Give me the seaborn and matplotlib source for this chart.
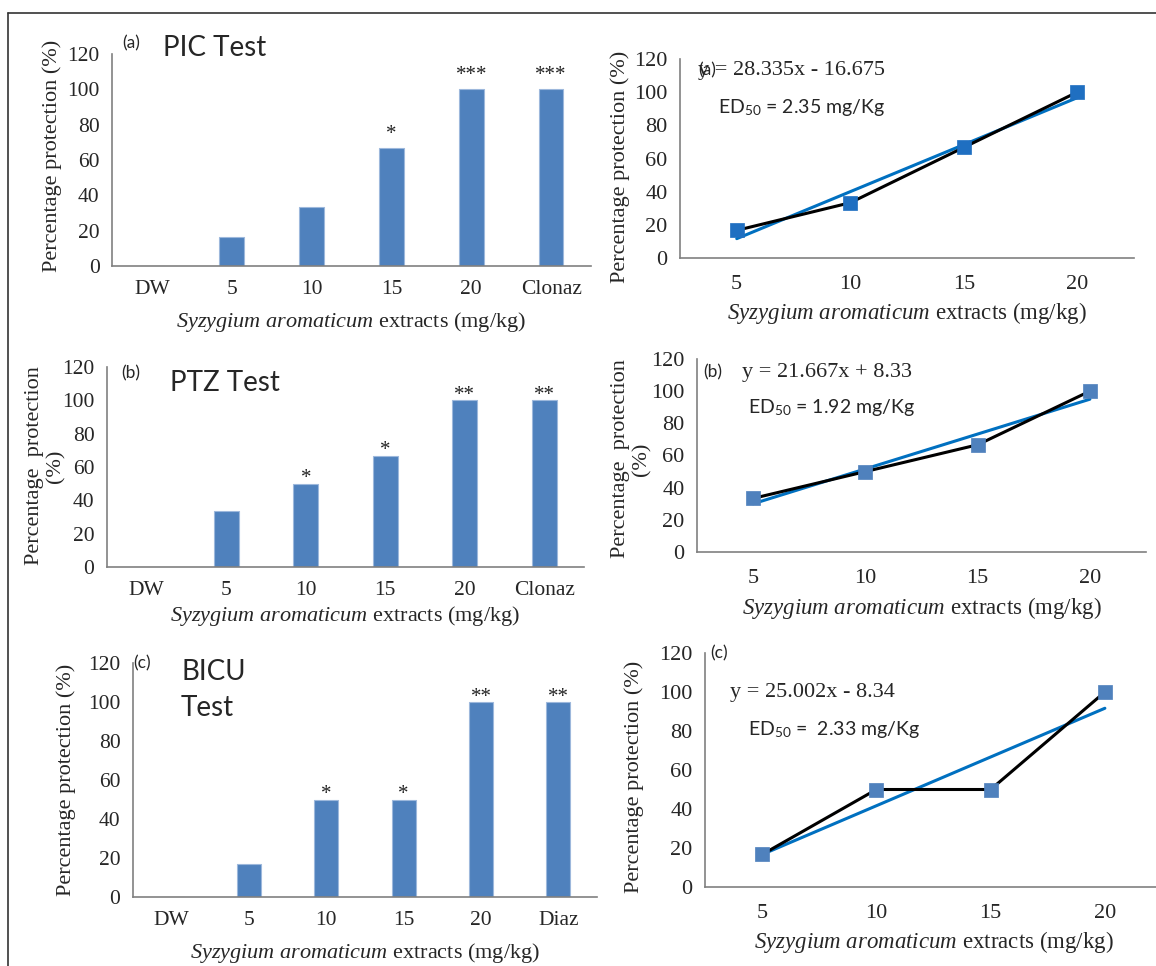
import numpy as np
import pandas as pd
import matplotlib
matplotlib.use("Agg")
import matplotlib.pyplot as plt
import seaborn as sns

# ---------------- data ----------------
bar_cats_a = ["DW", "5", "10", "15", "20", "Clonaz"]
bar_cats_b = ["DW", "5", "10", "15", "20", "Clonaz"]
bar_cats_c = ["DW", "5", "10", "15", "20", "Diaz"]
bar_vals_a = [0, 16.67, 33.33, 66.67, 100, 100]
bar_vals_b = [0, 33.33, 50, 66.67, 100, 100]
bar_vals_c = [0, 16.67, 50, 50, 100, 100]
stars_a = ["", "", "", "*", "***", "***"]
stars_b = ["", "", "*", "*", "**", "**"]
stars_c = ["", "", "*", "*", "**", "**"]

dose_labels = ["5", "10", "15", "20"]
line_vals_a = [16.67, 33.33, 66.67, 100]
line_vals_b = [33.33, 50, 66.67, 100]
line_vals_c = [16.67, 50, 50, 100]

titles = ["PIC Test", "PTZ Test", "BICU\nTest"]
panel_tags = ["(a)", "(b)", "(c)"]
equations = ["y = 28.335x - 16.675", "y = 21.667x + 8.33", "y = 25.002x - 8.34"]
ed50_texts = ["2.35 mg/Kg", "1.92 mg/Kg", " 2.33 mg/Kg"]
y_ticks = [0, 20, 40, 60, 80, 100, 120]

# ---------------- style ----------------
sns.set_style("white")
SERIF = ["Liberation Serif", "DejaVu Serif"]
SANS = ["Lato", "DejaVu Sans"]
plt.rcParams["font.family"] = SERIF
plt.rcParams["mathtext.fontset"] = "custom"
plt.rcParams["mathtext.rm"] = "Liberation Serif"
plt.rcParams["mathtext.it"] = "Liberation Serif:italic"

BAR_COLOR = "#4F81BD"
AX_COLOR = "#808080"
XLABEL = r"$\mathit{Syzygium\ aromaticum}$ extracts (mg/kg)"

W, H = 1156, 966
fig = plt.figure(figsize=(W / 100, H / 100), dpi=100)
fig.patch.set_facecolor("white")


def ax_px(l, t, r, b):
    return fig.add_axes([l / W, 1 - b / H, (r - l) / W, (b - t) / H])


def px_to_axes(ax, box, x, y):
    l, t, r, b = box
    return (x - l) / (r - l), (b - y) / (b - t)


def style_axes(ax, n, labels, box, tick_fs, xl_y, yl_x, yl_y, ylabel, yl_fs):
    ax.set_ylim(0, 120)
    ax.set_xlim(-0.5, n - 0.5)
    ax.set_yticks(y_ticks)
    ax.set_yticklabels([str(v) for v in y_ticks], fontsize=tick_fs)
    ax.set_xticks(np.arange(-0.5, n, 1.0))
    ax.set_xticklabels([])
    ax.set_xticks(np.arange(n), minor=True)
    ax.set_xticklabels(labels, minor=True, fontsize=tick_fs)
    ax.tick_params(axis="x", which="major", length=6, width=1, color=AX_COLOR, direction="out")
    ax.tick_params(axis="x", which="minor", length=0, pad=10)
    ax.tick_params(axis="y", length=6, width=1, color=AX_COLOR, direction="out", pad=3)
    for s in ["top", "right"]:
        ax.spines[s].set_visible(False)
    for s in ["left", "bottom"]:
        ax.spines[s].set_color(AX_COLOR)
        ax.spines[s].set_linewidth(1.2)
    ax.set_xlabel(XLABEL, fontsize=tick_fs + 0.5)
    ax.xaxis.label.set_va("center")
    ax.xaxis.set_label_coords(*px_to_axes(ax, box, (box[0] + box[2]) / 2, xl_y))
    ax.set_ylabel(ylabel, fontsize=yl_fs, linespacing=1.15)
    ax.yaxis.label.set_va("center")
    ax.yaxis.set_label_coords(*px_to_axes(ax, box, yl_x, yl_y))
    ax.set_facecolor("white")
    ax.grid(False)


# ---------------- bar panels ----------------
bar_boxes = [(112, 54, 591, 266), (107, 367, 584, 567), (133, 663, 597, 897)]
bar_xl_y = [322, 616, 953]
bar_yl = [(52, 156, "Percentage protection (%)"),
          (45, 466, "Percentage  protection\n(%)"),
          (66, 780, "Percentage protection (%)")]
bar_sets = [(bar_cats_a, bar_vals_a, stars_a), (bar_cats_b, bar_vals_b, stars_b),
            (bar_cats_c, bar_vals_c, stars_c)]
star_offsets = [2.5, -2.5, -2.5]
tag_pos = [(131, 43), (131, 373), (142, 663)]
title_pos = [(163, 48), (170, 383), (181, 690)]

for i, (box, (cats, vals, stars)) in enumerate(zip(bar_boxes, bar_sets)):
    ax = ax_px(*box)
    df = pd.DataFrame({"cat": cats, "val": vals})
    sns.barplot(data=df, x="cat", y="val", color=BAR_COLOR, width=0.31,
                saturation=1, edgecolor="#9DB8DC", linewidth=0.8, ax=ax, order=cats)
    for j, (v, s) in enumerate(zip(vals, stars)):
        if s:
            ax.text(j, v + star_offsets[i], s, ha="center", va="bottom",
                    fontsize=15, family=SERIF, color="#222222")
    style_axes(ax, len(cats), cats, box, 15.5, bar_xl_y[i], bar_yl[i][0], bar_yl[i][1],
               bar_yl[i][2], 16)
    fig.text(tag_pos[i][0] / W, 1 - tag_pos[i][1] / H, panel_tags[i], ha="center",
             va="center", fontsize=12.5, family=SANS)
    fig.text(title_pos[i][0] / W, 1 - title_pos[i][1] / H, titles[i], ha="left",
             va="center", fontsize=20, family=SANS, linespacing=1.5)

# ---------------- line panels ----------------
line_boxes = [(680, 59, 1134, 258), (697, 359, 1146, 552), (705, 653, 1162, 887)]
line_xl_y = [313, 608, 942]
line_yl = [(620, 167, "Percentage protection (%)"),
           (631, 459, "Percentage  protection\n(%)"),
           (634, 777, "Percentage protection (%)")]
line_sets = [line_vals_a, line_vals_b, line_vals_c]
marker_colors = ["#1F6FC1", "#4F81BD", "#4F81BD"]
eq_pos = [(698, 71), (742, 373), (730, 692)]
ltag_pos = [(707, 70), (713, 372), (719, 653)]
ed_pos = [(718, 108), (748, 408), (748, 730)]

for i, (box, vals) in enumerate(zip(line_boxes, line_sets)):
    ax = ax_px(*box)
    df = pd.DataFrame({"x": np.arange(len(vals)), "y": vals})
    sns.regplot(data=df, x="x", y="y", ci=None, scatter=False, truncate=True,
                line_kws={"color": "#0070C0", "lw": 2.2, "zorder": 2}, ax=ax)
    sns.lineplot(data=df, x="x", y="y", color="black", lw=2.2, ax=ax, zorder=3)
    sns.scatterplot(data=df, x="x", y="y", marker="s", s=90, color=marker_colors[i],
                    edgecolor=marker_colors[i], linewidth=0.5, ax=ax, zorder=4)
    style_axes(ax, len(vals), dose_labels, box, 16, line_xl_y[i], line_yl[i][0],
               line_yl[i][1], line_yl[i][2], 16)
    ax.tick_params(axis="x", which="minor", pad=12)
    fig.text(ltag_pos[i][0] / W, 1 - ltag_pos[i][1] / H, panel_tags[i], ha="center",
             va="center", fontsize=12.5, family=SANS)
    fig.text(eq_pos[i][0] / W, 1 - eq_pos[i][1] / H, equations[i], ha="left", va="center",
             fontsize=16, family=SERIF)
    fig.text(ed_pos[i][0] / W, 1 - ed_pos[i][1] / H,
             r"ED$_{\mathregular{50}}$ = " + ed50_texts[i], ha="left", va="center",
             fontsize=14, family=SANS)

# outer frame lines (top and left)
fig.add_artist(plt.Line2D([8 / W, 8 / W], [0, 1 - 13 / H], color="#333333", lw=1.2))
fig.add_artist(plt.Line2D([8 / W, 1], [1 - 13 / H, 1 - 13 / H], color="#333333", lw=1.2))

fig.savefig("out.png", dpi=100, facecolor="white")
